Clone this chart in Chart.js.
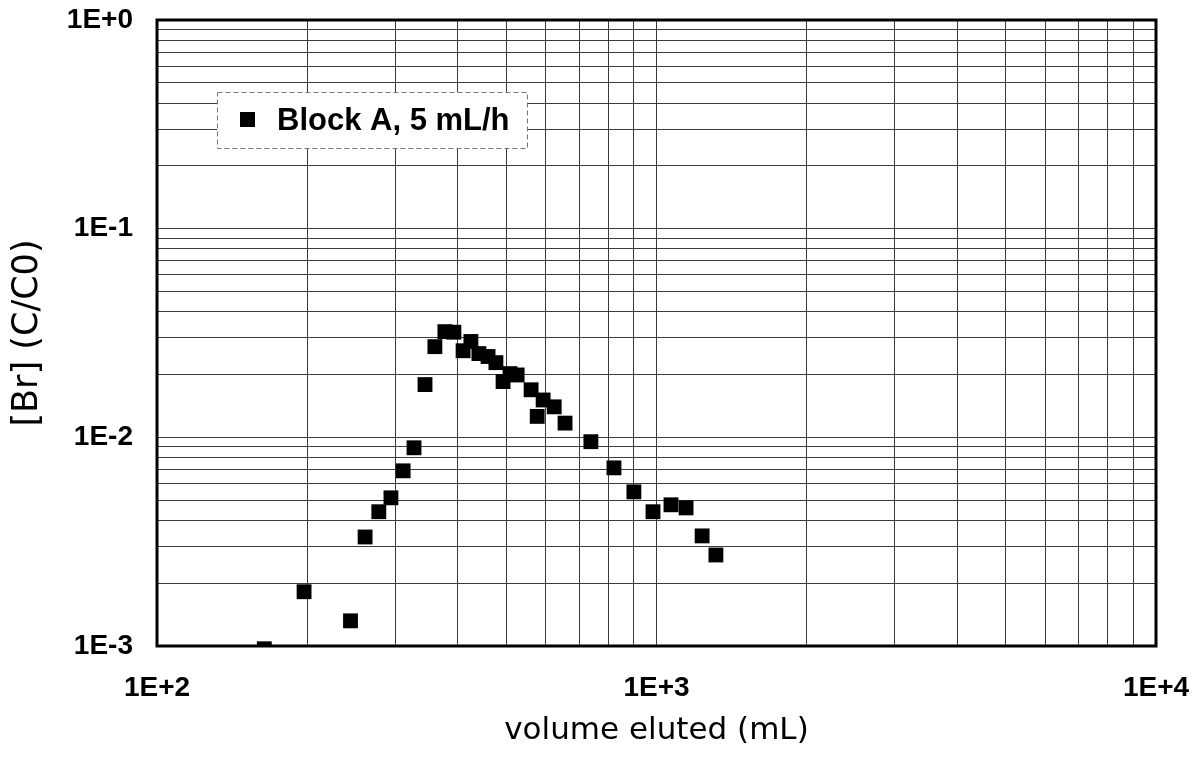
<!DOCTYPE html>
<html lang="en">
<head>
<meta charset="UTF-8">
<title>[Br] elution - Block A</title>
<script src="https://cdn.jsdelivr.net/npm/chart.js@4.4.1/dist/chart.umd.min.js"></script>
<style>
    html, body { margin: 0; padding: 0; background: #fff; }
    #wrap { width: 1204px; height: 762px; }
</style>
</head>
<body>
<div id="wrap"><canvas id="brChart" width="1204" height="762"></canvas></div>
<script>
// --- data ---
const volumeMl = [164, 197, 244, 261, 278, 294, 311, 327, 344, 360, 377, 393, 410, 425, 441,
    460, 477, 493, 509, 526, 561, 577, 593, 624, 656, 739, 822, 901, 984, 1069, 1146, 1234, 1315];
const brRatio = [0.00097, 0.00182, 0.00132, 0.00333, 0.00440, 0.00513, 0.00691, 0.00891, 0.0179,
    0.0272, 0.0321, 0.0319, 0.0260, 0.0288, 0.0252, 0.0244, 0.0228, 0.0185, 0.0202, 0.0199,
    0.0169, 0.0126, 0.0151, 0.0140, 0.0117, 0.00953, 0.00714, 0.00548, 0.00440, 0.00475,
    0.00459, 0.00337, 0.00273];
const seriesLabel = 'Block A, 5 mL/h';

const xTickValues = [100, 1000, 10000];
const xTickLabels = ['1E+2', '1E+3', '1E+4'];
const yTickValues = [0.001, 0.01, 0.1, 1];
const yTickLabels = ['1E-3', '1E-2', '1E-1', '1E+0'];

document.addEventListener('DOMContentLoaded', () => {

    const tickFont = { family: '"Liberation Sans", Arial, sans-serif', size: 28, weight: 'bold' };

    // 1..9 of every decade, so each one gets a grid line
    const decadeSteps = (decades) => {
        const out = [];
        for (let i = 0; i < decades.length - 1; i++) {
            for (let k = 1; k <= 9; k++) out.push(k * decades[i]);
        }
        out.push(decades[decades.length - 1]);
        return out;
    };

    // label only the decades
    const labelFor = (values, labels) => (v) => {
        const i = values.findIndex(d => Math.abs(Math.log10(d) - Math.log10(v)) < 1e-6);
        return i >= 0 ? labels[i] : '';
    };

    // frame round the plot + the little key box
    const frameAndKey = {
        id: 'frameAndKey',
        afterDatasetsDraw(chart) {
            const { ctx, chartArea: a } = chart;
            ctx.save();

            const bx = a.left + 60, by = a.top + 72, bw = 310, bh = 56;
            ctx.fillStyle = '#fff';
            ctx.fillRect(bx, by, bw, bh);
            ctx.setLineDash([5, 3]);
            ctx.strokeStyle = '#777';
            ctx.lineWidth = 1;
            ctx.strokeRect(bx + 0.5, by + 0.5, bw, bh);
            ctx.setLineDash([]);

            ctx.fillStyle = '#000';
            ctx.fillRect(bx + 23, by + 20, 15, 15);
            ctx.font = 'bold 31px "Liberation Sans", Arial, sans-serif';
            ctx.textBaseline = 'middle';
            ctx.textAlign = 'left';
            ctx.fillText(chart.data.datasets[0].label, bx + 60, by + bh / 2 + 1);

            ctx.lineWidth = 3;
            ctx.strokeStyle = '#000';
            ctx.strokeRect(a.left, a.top, a.right - a.left, a.bottom - a.top);
            ctx.restore();
        }
    };

    const ctx = document.getElementById('brChart');
    new Chart(ctx, {
        type: 'scatter',
        data: {
            datasets: [{
                label: seriesLabel,
                data: volumeMl.map((v, i) => ({ x: v, y: brRatio[i] })),
                pointStyle: 'rect',
                pointRadius: 10.5,
                pointBackgroundColor: '#000',
                pointBorderWidth: 0,
                clip: 0
            }]
        },
        options: {
            responsive: false,
            animation: false,
            events: [],
            layout: { padding: { top: 20, right: 48, bottom: 0, left: 0 } },
            plugins: {
                legend: { display: false },
                tooltip: { enabled: false }
            },
            scales: {
                x: {
                    type: 'logarithmic',
                    min: xTickValues[0],
                    max: xTickValues[xTickValues.length - 1],
                    afterBuildTicks: (s) => { s.ticks = decadeSteps(xTickValues).map(v => ({ value: v })); },
                    // fixed box, and no extra room for the end labels
                    afterFit: (s) => { s.height = 116; s.paddingLeft = 0; s.paddingRight = 0; },
                    grid: { color: '#3c3c3c', lineWidth: 1, drawTicks: false },
                    border: { display: false },
                    ticks: {
                        autoSkip: false,
                        maxRotation: 0,
                        padding: 25,
                        color: '#000',
                        font: tickFont,
                        callback: labelFor(xTickValues, xTickLabels)
                    },
                    title: {
                        display: true,
                        text: 'volume eluted (mL)',
                        color: '#000',
                        font: { family: '"DejaVu Sans", sans-serif', size: 31 },
                        padding: { top: 0, bottom: 12 }
                    }
                },
                y: {
                    type: 'logarithmic',
                    min: yTickValues[0],
                    max: yTickValues[yTickValues.length - 1],
                    afterBuildTicks: (s) => { s.ticks = decadeSteps(yTickValues).map(v => ({ value: v })); },
                    afterFit: (s) => { s.width = 157; s.paddingTop = 0; s.paddingBottom = 0; },
                    grid: { color: '#3c3c3c', lineWidth: 1, drawTicks: false },
                    border: { display: false },
                    ticks: {
                        autoSkip: false,
                        padding: 24,
                        color: '#000',
                        font: tickFont,
                        callback: labelFor(yTickValues, yTickLabels)
                    },
                    title: {
                        display: true,
                        text: '[Br] (C/C0)',
                        color: '#000',
                        font: { family: '"DejaVu Sans", sans-serif', size: 35 },
                        padding: { top: 7, bottom: 0 }
                    }
                }
            }
        },
        plugins: [frameAndKey]
    });
});
</script>
</body>
</html>
